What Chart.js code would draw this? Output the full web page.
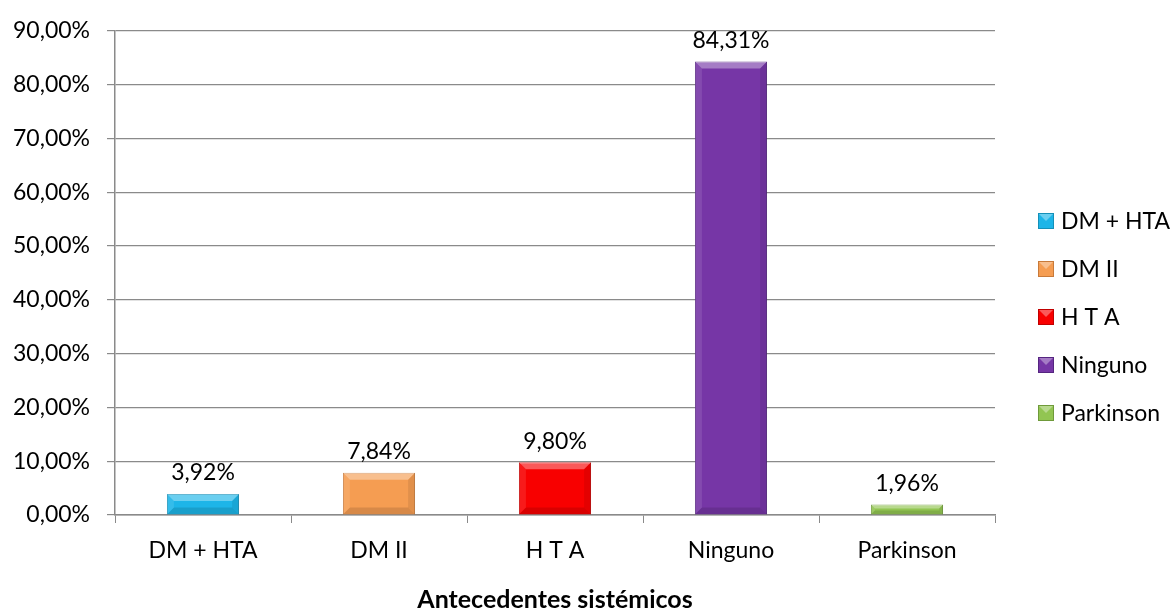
<!DOCTYPE html>
<html>
<head>
<meta charset="utf-8">
<script src="https://cdn.jsdelivr.net/npm/chart.js@4/dist/chart.umd.min.js"></script>
<style>
  html, body { margin: 0; padding: 0; background: #fff; }
  #wrap { width: 1171px; height: 612px; }
</style>
</head>
<body>
<div id="wrap"><canvas id="chart" width="1171" height="612"></canvas></div>
<script>
// Chart data
const categories = ['DM + HTA', 'DM II', 'H T A', 'Ninguno', 'Parkinson'];
const percentages = [3.92, 7.84, 9.80, 84.31, 1.96];
const barColors = ['#1db5e8', '#f59d52', '#f80000', '#7636a6', '#92c552'];
const borderColors = ['#1590b8', '#c87a3a', '#c00000', '#552580', '#6f9a3a'];
const axisTitle = 'Antecedentes sistémicos';
const yMin = 0, yMax = 90, yStep = 10;

const fmtPct = v => v.toFixed(2).replace('.', ',') + '%';

Chart.defaults.font.family = 'Lato, "Open Sans", sans-serif';
Chart.defaults.font.size = 23;
Chart.defaults.color = '#000';

// Bevel look like the Excel bars
const bevelPlugin = {
  id: 'bevel',
  afterDatasetsDraw(chart) {
    const ctx = chart.ctx;
    chart.getDatasetMeta(0).data.forEach(bar => {
      const l = bar.x - bar.width / 2, r = bar.x + bar.width / 2;
      const t = bar.y, b = bar.base;
      const s = Math.min(7, (b - t) / 2.5);
      ctx.save();
      const shade = (pts, col) => {
        ctx.beginPath();
        ctx.moveTo(pts[0][0], pts[0][1]);
        pts.slice(1).forEach(p => ctx.lineTo(p[0], p[1]));
        ctx.closePath();
        ctx.fillStyle = col;
        ctx.fill();
      };
      shade([[l, t], [r, t], [r - s, t + s], [l + s, t + s]], 'rgba(255,255,255,0.35)');
      shade([[l, t], [l + s, t + s], [l + s, b - s], [l, b]], 'rgba(255,255,255,0.1)');
      shade([[r, t], [r, b], [r - s, b - s], [r - s, t + s]], 'rgba(0,0,0,0.08)');
      shade([[l, b], [l + s, b - s], [r - s, b - s], [r, b]], 'rgba(0,0,0,0.12)');
      ctx.restore();
    });
  }
};

// Value labels above bars
const valueLabels = {
  id: 'valueLabels',
  afterDatasetsDraw(chart) {
    const ctx = chart.ctx;
    const ds = chart.data.datasets[0];
    ctx.save();
    ctx.font = '23px ' + Chart.defaults.font.family;
    ctx.fillStyle = '#000';
    ctx.textAlign = 'center';
    ctx.textBaseline = 'middle';
    chart.getDatasetMeta(0).data.forEach((bar, i) => {
      ctx.fillText(fmtPct(ds.data[i]), bar.x, bar.y - 21);
    });
    ctx.restore();
  }
};

// Legend on the right, one entry per category
const sideLegend = {
  id: 'sideLegend',
  afterDraw(chart) {
    const ctx = chart.ctx;
    const x = chart.chartArea.right + 43;
    const top = 221, gap = 48, box = 16;
    ctx.save();
    ctx.font = '23px ' + Chart.defaults.font.family;
    ctx.textBaseline = 'middle';
    chart.data.labels.forEach((label, i) => {
      const y = top + i * gap;
      ctx.fillStyle = barColors[i];
      ctx.fillRect(x, y - box / 2, box, box);
      ctx.fillStyle = 'rgba(255,255,255,0.35)';
      ctx.beginPath();
      ctx.moveTo(x, y - box / 2);
      ctx.lineTo(x + box, y - box / 2);
      ctx.lineTo(x + box / 2, y);
      ctx.closePath();
      ctx.fill();
      ctx.strokeStyle = borderColors[i];
      ctx.lineWidth = 1;
      ctx.strokeRect(x + 0.5, y - box / 2 + 0.5, box - 1, box - 1);
      ctx.fillStyle = '#000';
      ctx.fillText(label, x + 23, y + 1);
    });
    ctx.restore();
  }
};

new Chart(document.getElementById('chart'), {
  type: 'bar',
  data: {
    labels: categories,
    datasets: [{
      data: percentages,
      backgroundColor: barColors,
      borderColor: borderColors,
      borderWidth: 1,
      barPercentage: 0.41,
      categoryPercentage: 1
    }]
  },
  options: {
    responsive: false,
    animation: false,
    layout: { padding: { top: 27, right: 176, bottom: 0, left: 0 } },
    plugins: {
      legend: { display: false },
      tooltip: { enabled: false }
    },
    scales: {
      x: {
        grid: {
          offset: true,
          drawOnChartArea: false,
          tickLength: 8,
          color: '#8a8a8a'
        },
        border: { color: '#8a8a8a', width: 1.5 },
        ticks: { padding: 14, color: '#000' },
        title: {
          display: true,
          text: axisTitle,
          font: { weight: 'bold', size: 25, lineHeight: 1 },
          padding: { top: 0, bottom: 0 },
          color: '#000'
        },
        afterFit(scale) { scale.height = 97; }
      },
      y: {
        min: yMin,
        max: yMax,
        grid: { tickLength: 8, color: '#8a8a8a', lineWidth: 1.2 },
        border: { color: '#8a8a8a', width: 1.5 },
        ticks: {
          stepSize: yStep,
          padding: 17,
          color: '#000',
          callback: v => fmtPct(v)
        },
        afterFit(scale) { scale.width = 115; }
      }
    }
  },
  plugins: [bevelPlugin, valueLabels, sideLegend]
});
</script>
</body>
</html>
